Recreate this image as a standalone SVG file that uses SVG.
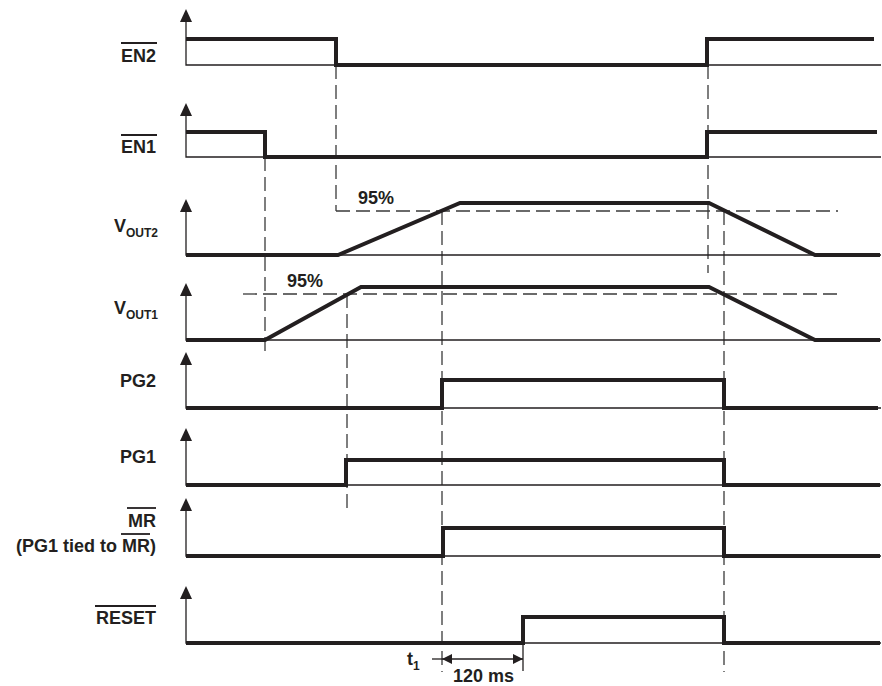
<svg xmlns="http://www.w3.org/2000/svg" width="882" height="686" viewBox="0 0 882 686">
<defs>
<style>
.lbl{font-family:"Liberation Sans",Arial,sans-serif;font-weight:bold;font-size:18px;fill:#231f20}
.sub{font-size:12px}
.thick{fill:none;stroke:#231f20;stroke-width:4;stroke-linejoin:miter;stroke-linecap:butt}
.thin{fill:none;stroke:#231f20;stroke-width:1.3}
.dash{fill:none;stroke:#3a3a3a;stroke-width:1.3;stroke-dasharray:14 6}
.ov{stroke:#231f20;stroke-width:1.8}
.ah{fill:#231f20}
</style>
<marker id="tri" viewBox="0 0 10 10" refX="10" refY="5" markerWidth="13" markerHeight="10" markerUnits="userSpaceOnUse" orient="auto-start-reverse">
<path d="M0,0 L10,5 L0,10 Z" fill="#231f20"/>
</marker>
</defs>
<rect width="882" height="686" fill="#fff"/>

<g id="connectors">
<line class="dash" x1="336" y1="65" x2="336" y2="211"/>
<line class="dash" x1="336" y1="211" x2="838" y2="211"/>
<line class="dash" x1="265" y1="157" x2="265" y2="357"/>
<line class="dash" x1="243" y1="294" x2="840" y2="294"/>
<line class="dash" x1="347" y1="294" x2="347" y2="510"/>
<line class="dash" x1="442" y1="211" x2="442" y2="672"/>
<line class="dash" x1="708" y1="65" x2="708" y2="273"/>
<line class="dash" x1="724" y1="211" x2="724" y2="672"/>
</g>

<g id="sig-en2">
<polygon class="ah" points="186,9 180,22 192,22"/>
<polyline class="thin" points="186,20 186,65 881,65"/>
<polyline class="thick" points="186,39 336,39 336,65 707,65 707,39 874,39"/>
<text class="lbl" x="156" y="62" text-anchor="end">EN2</text>
<line class="ov" x1="121" y1="43" x2="157" y2="43"/>
</g>

<g id="sig-en1">
<polygon class="ah" points="186,103 180,116 192,116"/>
<polyline class="thin" points="186,114 186,157 881,157"/>
<polyline class="thick" points="186,132 265,132 265,157 707,157 707,132 877,132"/>
<text class="lbl" x="156" y="153" text-anchor="end">EN1</text>
<line class="ov" x1="121" y1="135" x2="157" y2="135"/>
</g>

<g id="sig-vout2">
<polygon class="ah" points="186,199 180,212 192,212"/>
<polyline class="thin" points="186,210 186,255 881,255"/>
<polyline class="thick" points="186,255 338,255 460,203 709,203 815,255 880,255"/>
<text class="lbl" x="158" y="232" text-anchor="end">V<tspan class="sub" dy="5">OUT2</tspan></text>
<text class="lbl" x="358" y="204">95%</text>
</g>

<g id="sig-vout1">
<polygon class="ah" points="186,283 180,296 192,296"/>
<polyline class="thin" points="186,294 186,340 881,340"/>
<polyline class="thick" points="186,340 265,340 361,287 709,287 815,340 880,340"/>
<text class="lbl" x="158" y="314" text-anchor="end">V<tspan class="sub" dy="5">OUT1</tspan></text>
<text class="lbl" x="287" y="287">95%</text>
</g>

<g id="sig-pg2">
<polygon class="ah" points="186,352 180,365 192,365"/>
<polyline class="thin" points="186,363 186,408 881,408"/>
<polyline class="thick" points="186,408 442,408 442,380 724,380 724,408 878,408"/>
<text class="lbl" x="156" y="387" text-anchor="end">PG2</text>
</g>

<g id="sig-pg1">
<polygon class="ah" points="186,428 180,441 192,441"/>
<polyline class="thin" points="186,439 186,485 881,485"/>
<polyline class="thick" points="186,485 346,485 346,460 724,460 724,485 880,485"/>
<text class="lbl" x="156" y="463" text-anchor="end">PG1</text>
</g>

<g id="sig-mr">
<polygon class="ah" points="186,498 180,511 192,511"/>
<polyline class="thin" points="186,509 186,556 881,556"/>
<polyline class="thick" points="186,556 443,556 443,528 724,528 724,556 880,556"/>
<text class="lbl" x="156" y="527" text-anchor="end">MR</text>
<line class="ov" x1="127" y1="508" x2="156" y2="508"/>
<text class="lbl" x="156" y="552" text-anchor="end">(PG1 tied to MR)</text>
<line class="ov" x1="121" y1="534" x2="150" y2="534"/>
</g>

<g id="sig-reset">
<polygon class="ah" points="186,586 180,599 192,599"/>
<polyline class="thin" points="186,597 186,643 881,643"/>
<polyline class="thick" points="186,643 523,643 523,617 724,617 724,643 880,643"/>
<text class="lbl" x="156" y="624" text-anchor="end">RESET</text>
<line class="ov" x1="95" y1="606" x2="156" y2="606"/>
</g>

<g id="timing">
<line class="thin" x1="432" y1="659" x2="442" y2="659"/>
<line class="thin" x1="442" y1="659" x2="523" y2="659" marker-start="url(#tri)" marker-end="url(#tri)"/>
<line class="thin" x1="523" y1="643" x2="523" y2="671"/>
<text class="lbl" x="407" y="665">t<tspan class="sub" dy="5">1</tspan></text>
<text class="lbl" x="453" y="682">120 ms</text>
</g>
</svg>
